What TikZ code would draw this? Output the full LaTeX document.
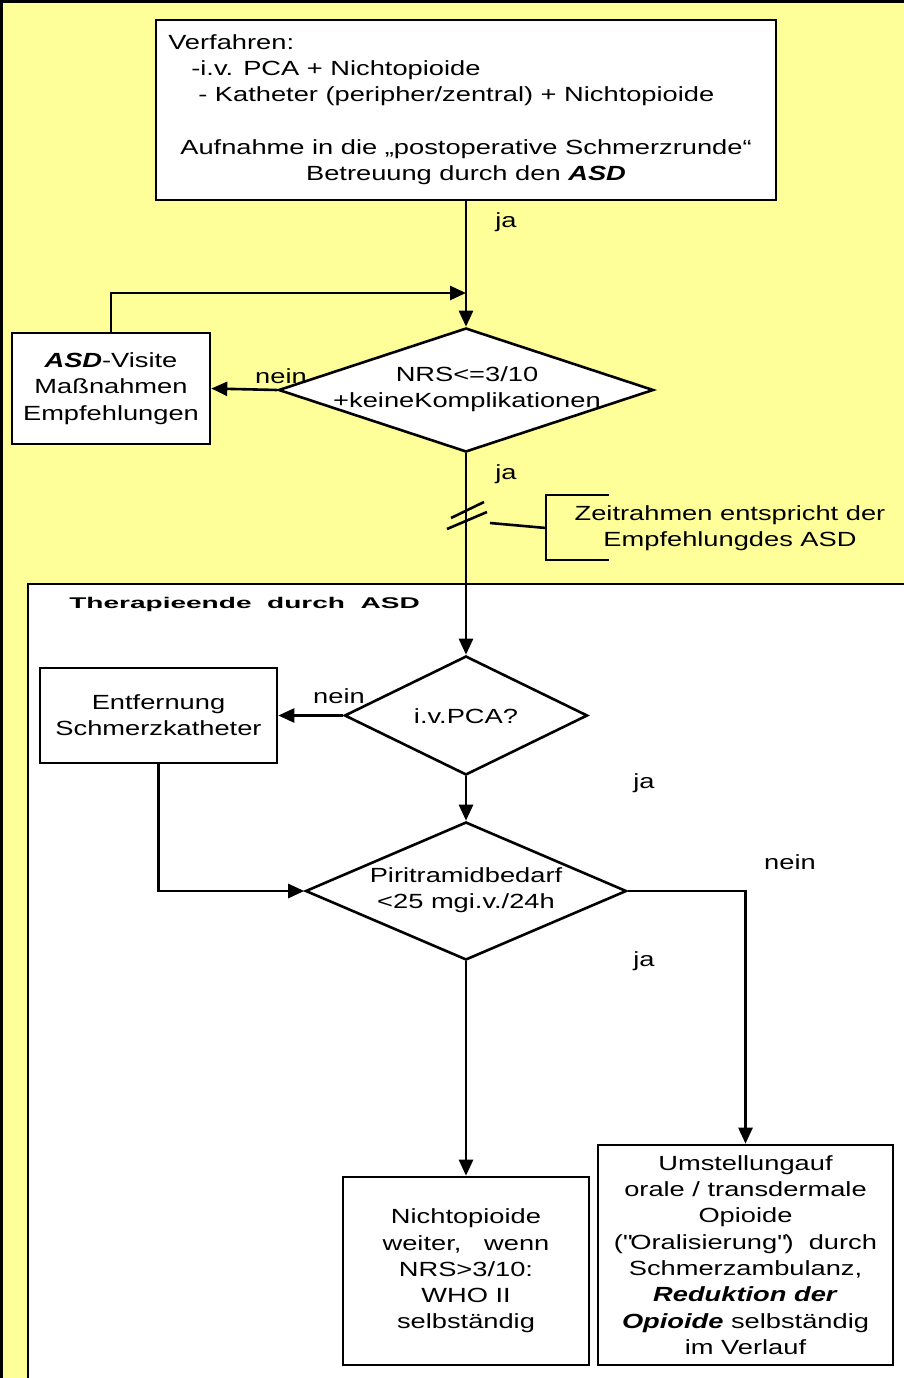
\documentclass[tikz,border=0pt]{standalone}
\usepackage{fontspec}
\setmainfont[FakeStretch=1.33]{Liberation Sans}
\usetikzlibrary{shapes.geometric,arrows.meta}
\definecolor{paleyellow}{RGB}{255,255,153}

\begin{document}
\begin{tikzpicture}[x=1pt, y=-1pt, line width=2.6pt,
    font=\fontsize{20.5}{26.3}\selectfont,
    box/.style={draw, fill=white, inner sep=0pt, align=center},
    dia/.style={diamond, draw, fill=white, inner sep=0pt},
    lbl/.style={inner sep=0pt},
    flow/.style={-{Triangle[length=16pt,width=14pt]}}]

    \useasboundingbox (0,0) rectangle (904,1378);

    %% Frames

    % Outer frame
    \fill[paleyellow] (0,0) rectangle (904,1378);
    \draw (0,1.5) -- (904,1.5);
    \draw (1.5,0) -- (1.5,1378);

    % Inner frame
    \fill[white] (28,584) rectangle (904,1378);
    \draw (28,1378) -- (28,584) -- (904,584);
    \node[lbl, anchor=west] (title) at (68,604)
        {\scalebox{1.36}[1]{\bfseries\fontsize{15.5}{18}\selectfont Therapieende\ \ durch\ \ ASD}};

    %% Nodes

    % Procedure
    \node[box, minimum width=620, minimum height=180] (proc) at (466,110) {};
    \node[lbl, anchor=west, align=left] (proctop) at (167,70)
        {Verfahren:\\\hspace*{23pt}-i.v. PCA + Nichtopioide\\\hspace*{30pt}- Katheter (peripher/zentral) + Nichtopioide};
    \node[lbl, align=center] (procbot) at (466,162)
        {Aufnahme in die „postoperative Schmerzrunde“\\Betreuung durch den \textbf{\textit{ASD}}};

    % Visit
    \node[box, minimum width=198, minimum height=111] (asd) at (111,388.5)
        {\textbf{\textit{ASD}}-Visite\\Maßnahmen\\Empfehlungen};

    % First decision
    \node[dia, minimum width=375, minimum height=124] (nrs) at (466,390) {};
    \node[lbl, align=center] (nrstxt) at (467,389) {NRS<=3/10\\+keineKomplikationen};

    % Time frame
    \node[lbl, align=center] (zeit) at (730,528) {Zeitrahmen entspricht der\\Empfehlungdes ASD};

    % Second decision
    \node[dia, minimum width=243, minimum height=119] (pca) at (466,715.5) {};
    \node[lbl] (pcatxt) at (466,716) {i.v.PCA?};
    \node[box, minimum width=237, minimum height=95] (ent) at (158.5,715.5)
        {Entfernung\\Schmerzkatheter};

    % Third decision
    \node[dia, minimum width=321, minimum height=138] (pir) at (466,891) {};
    \node[lbl, align=center] (pirtxt) at (466,890) {Piritramidbedarf\\<25 mgi.v./24h};

    % Results
    \node[box, minimum width=246, minimum height=188] (nicht) at (466,1271)
        {Nichtopioide\\weiter,\ \ \ wenn\\NRS>3/10:\\WHO II\\selbständig};
    \node[box, minimum width=295, minimum height=220] (umst) at (745.5,1255)
        {Umstellungauf\\orale / transdermale\\Opioide\\(\textquotedbl Oralisierung\textquotedbl)\ \ durch\\Schmerzambulanz,\\
         \textbf{\textit{Reduktion der}}\\\textbf{\textit{Opioide}} selbständig\\im Verlauf};

    % Labels
    \node[lbl] (ja1) at (506,222) {ja};
    \node[lbl] (nein1) at (281,376) {nein};
    \node[lbl] (ja2) at (506,474) {ja};
    \node[lbl] (nein2) at (339,696) {nein};
    \node[lbl] (ja3) at (644,783) {ja};
    \node[lbl] (nein3) at (790,862) {nein};
    \node[lbl] (ja4) at (644,961) {ja};

    %% Connectors

    \coordinate (merge) at (466,293);
    \draw[flow] (proc.south) -- (nrs.north);
    \draw[flow] (asd.north) |- (merge);
    \draw[flow] (nrs.west) -- (asd.east);
    \draw[flow] (nrs.south) -- (pca.north);
    \draw[flow] (pca.west) -- (ent.east);
    \draw[flow] (pca.south) -- (pir.north);
    \draw[flow] (ent.south) |- (pir.west);
    \draw[flow] (pir.east) -| (umst.north);
    \draw[flow] (pir.south) -- (nicht.north);

    % Break mark and bracket
    \draw (451,518) -- (484,502);
    \draw (447,529) -- (487,512);
    \coordinate (brk) at (490,523);
    \coordinate (brak) at (546,528);
    \draw (brk) -- (brak);
    \draw (609,495) -- (546,495) -- (546,560) -- (609,560);

\end{tikzpicture}
\end{document}
